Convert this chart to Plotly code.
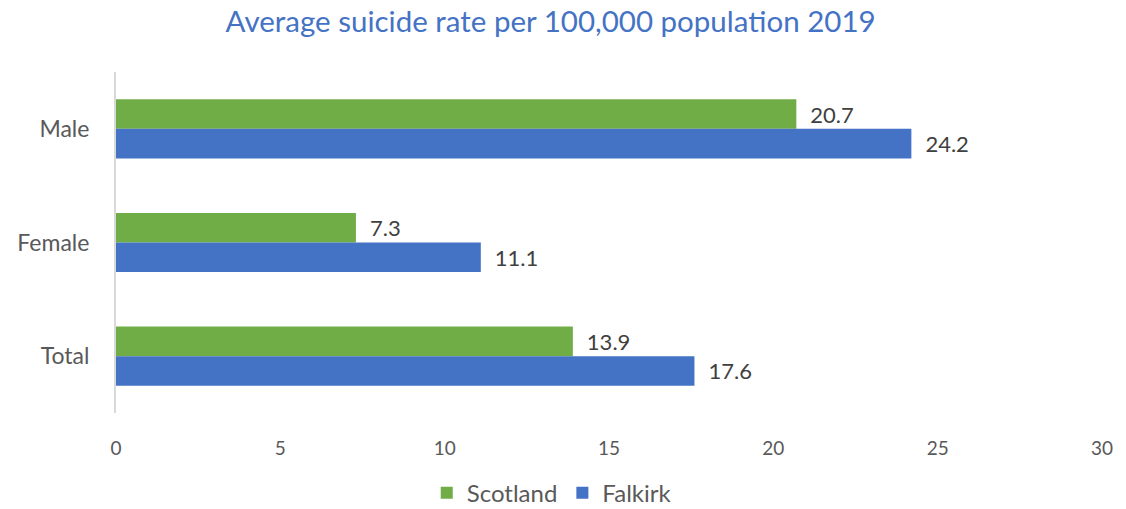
import plotly.graph_objects as go

categories = ["Male", "Female", "Total"]
scotland = [20.7, 7.3, 13.9]
falkirk = [24.2, 11.1, 17.6]
x_ticks = [0, 5, 10, 15, 20, 25, 30]

FONT = "Lato, 'Open Sans', sans-serif"

fig = go.Figure()
fig.add_trace(go.Bar(
    name="Scotland", y=categories, x=scotland, orientation="h",
    marker=dict(color="#70AD47", line=dict(width=0)),
    text=[f"\u2002{v:.1f}" for v in scotland], textposition="outside",
    textfont=dict(size=22, color="#404040", family=FONT), cliponaxis=False,
))
fig.add_trace(go.Bar(
    name="Falkirk", y=categories, x=falkirk, orientation="h",
    marker=dict(color="#4472C4", line=dict(width=0)),
    text=[f"\u2002{v:.1f}" for v in falkirk], textposition="outside",
    textfont=dict(size=22, color="#404040", family=FONT), cliponaxis=False,
))

fig.update_layout(
    width=1126, height=509,
    margin=dict(l=116, r=24, t=72, b=96, autoexpand=False),
    paper_bgcolor="white", plot_bgcolor="white",
    barmode="group", bargap=0.48, bargroupgap=0,
    font=dict(family=FONT, color="#595959"),
    title=dict(text="Average suicide rate per 100,000 population 2019",
               xref="container", x=0.489, xanchor="center", y=0.957, yanchor="middle",
               font=dict(size=29.5, color="#4472C4", family=FONT)),
    xaxis=dict(range=[0, 30], tickvals=x_ticks, showgrid=False, zeroline=False,
               showline=False, ticks="", tickfont=dict(size=19, color="#595959"),
               ticklabelstandoff=22, automargin=False),
    yaxis=dict(autorange="reversed", showgrid=False, zeroline=False,
               showline=True, linecolor="#D9D9D9", linewidth=2, ticks="",
               tickfont=dict(size=23, color="#595959"), ticklabelstandoff=20,
               automargin=False),
    legend=dict(orientation="h", xref="container", x=0.49, xanchor="center",
                y=-0.235, yanchor="middle",
                font=dict(size=24, color="#595959"), itemwidth=30,
                traceorder="normal"),
    showlegend=True,
)

fig.write_html("out.html", config={"displayModeBar": False},
               post_script="document.body.style.margin='0';document.body.style.overflow='hidden';")
